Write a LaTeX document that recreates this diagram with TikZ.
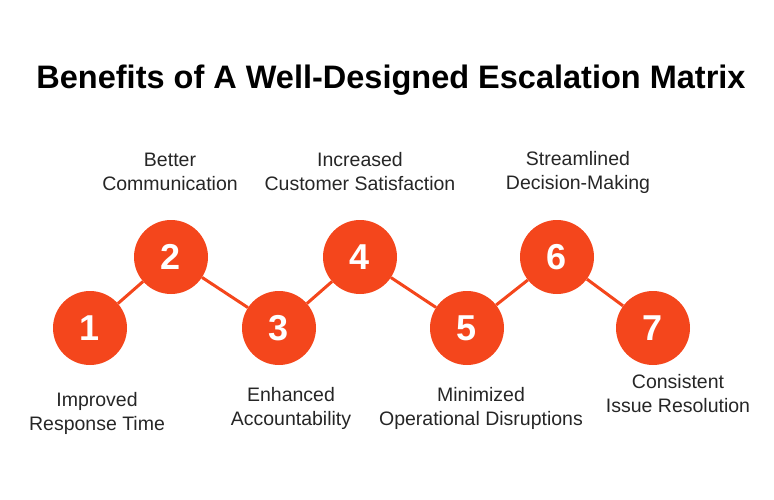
\documentclass[tikz,border=0pt]{standalone}
\usepackage{fontspec}
\setmainfont{Liberation Sans}
\definecolor{org}{HTML}{F4461C}
\begin{document}
\begin{tikzpicture}[x=1pt,y=-1pt,
  num/.style={circle,fill=org,minimum size=74pt,inner sep=0pt,text=white,font=\fontsize{36}{36}\selectfont\bfseries},
  lbl/.style={align=center,font=\fontsize{19.5}{24}\selectfont,text=black!85},
  con/.style={org,line width=3pt}]
\useasboundingbox (0,0) rectangle (774,499);
\node[font=\fontsize{32.5}{36}\selectfont\bfseries] (t) at (391,80) {Benefits of A Well-Designed Escalation Matrix};
\node[num] (n1) at (90,328) {1};
\node[num] (n2) at (171,257) {2};
\node[num] (n3) at (279,328) {3};
\node[num] (n4) at (360,257) {4};
\node[num] (n5) at (467,328) {5};
\node[num] (n6) at (557,257) {6};
\node[num] (n7) at (653,328) {7};
\draw[con] (n1) -- (n2); \draw[con] (n2) -- (n3); \draw[con] (n3) -- (n4);
\draw[con] (n4) -- (n5); \draw[con] (n5) -- (n6); \draw[con] (n6) -- (n7);
\node[lbl] (l1) at (97,413) {Improved\\Response Time};
\node[lbl] (l2) at (170,172) {Better\\Communication};
\node[lbl] (l3) at (291,408) {Enhanced\\Accountability};
\node[lbl] (l4) at (360,172) {Increased\\Customer Satisfaction};
\node[lbl] (l5) at (481,408) {Minimized\\Operational Disruptions};
\node[lbl] (l6) at (578,172) {Streamlined\\Decision-Making};
\node[lbl] (l7) at (678,394) {Consistent\\Issue Resolution};
\end{tikzpicture}
\end{document}
